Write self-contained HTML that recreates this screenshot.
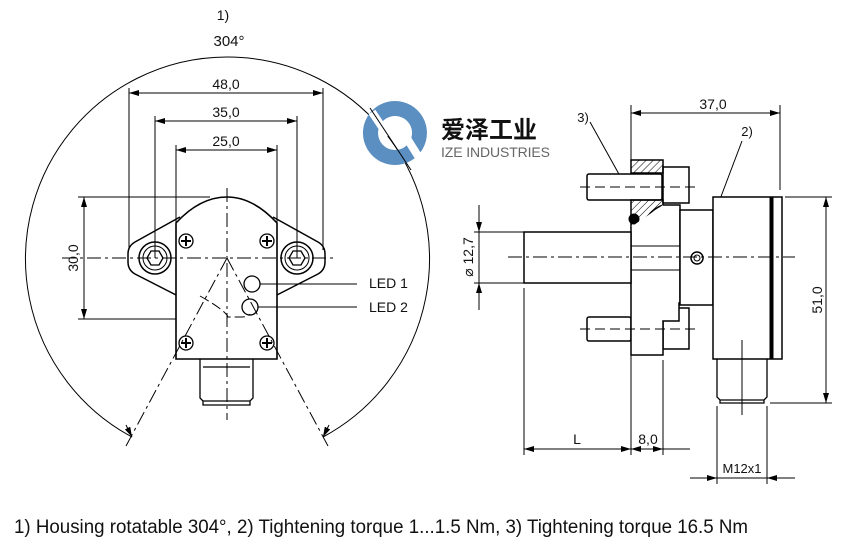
<!DOCTYPE html>
<html><head><meta charset="utf-8"><style>
html,body{margin:0;padding:0;background:#fff;width:855px;height:545px;overflow:hidden}
svg{display:block}
text{font-family:"Liberation Sans","Noto Sans CJK SC",sans-serif;fill:#111}
</style></head><body>
<svg width="855" height="545" viewBox="0 0 855 545" xmlns="http://www.w3.org/2000/svg">
<defs>
<marker id="a" viewBox="0 0 10 6" refX="10" refY="3" markerWidth="10" markerHeight="6" orient="auto-start-reverse" markerUnits="userSpaceOnUse"><path d="M0,0 L10,3 L0,6 z" fill="#000"/></marker>
<pattern id="h" width="5" height="5" patternUnits="userSpaceOnUse" patternTransform="rotate(45)"><line x1="0" y1="0" x2="0" y2="5" stroke="#000" stroke-width="1"/></pattern>
</defs>
<g stroke="#000" fill="none" stroke-width="1">
<path d="M132,437 A202,202 0 1 1 323,437" />
<line x1="126" y1="425" x2="132" y2="437" marker-end="url(#a)"/>
<line x1="329" y1="425" x2="323" y2="437" marker-end="url(#a)"/>
</g>
<g>
<path d="M395,101 a32,32 0 1 1 -0.1,0 z M395,116 a17,17 0 1 0 0.1,0 z" fill="#5b8fc2" fill-rule="evenodd"/>
<line x1="372" y1="112" x2="388" y2="136" stroke="#fff" stroke-width="8"/>
<line x1="403" y1="132" x2="418" y2="156" stroke="#fff" stroke-width="8"/>
<path d="M370,108 L411,170" stroke="#000" fill="none"/>
<text x="441" y="138" font-size="24" font-weight="bold" style="font-family:'Noto Sans CJK SC',sans-serif" fill="#222">爱泽工业</text>
<text x="441" y="157" font-size="14" style="fill:#666" textLength="109">IZE INDUSTRIES</text>
</g>
<g stroke="#000" fill="none" stroke-width="1">
<line x1="129" y1="88" x2="129" y2="250"/><line x1="323" y1="88" x2="323" y2="250"/>
<line x1="129" y1="93" x2="323" y2="93" marker-start="url(#a)" marker-end="url(#a)"/>
<line x1="155" y1="116" x2="155" y2="258"/><line x1="297" y1="116" x2="297" y2="258"/>
<line x1="155" y1="121" x2="297" y2="121" marker-start="url(#a)" marker-end="url(#a)"/>
<line x1="176" y1="145" x2="176" y2="223"/><line x1="277" y1="145" x2="277" y2="223"/>
<line x1="176" y1="150" x2="277" y2="150" marker-start="url(#a)" marker-end="url(#a)"/>
<line x1="78" y1="197" x2="210" y2="197"/><line x1="78" y1="319" x2="210" y2="319"/>
<line x1="84" y1="197" x2="84" y2="319" marker-start="url(#a)" marker-end="url(#a)"/>
<path d="M180,217 L135,242 Q128,246 128,254 L128,262 Q128,270 135,274 L180,297" stroke-width="1.5"/>
<path d="M273,217 L318,242 Q325,246 325,254 L325,262 Q325,270 318,274 L273,297" stroke-width="1.5"/>
<circle cx="155" cy="258" r="16" stroke-width="1.5"/><circle cx="155" cy="258" r="12"/>
<polygon points="147,258 151,251 159,251 163,258 159,265 151,265" stroke-width="1.3"/>
<circle cx="297" cy="258" r="16" stroke-width="1.5"/><circle cx="297" cy="258" r="12"/>
<polygon points="289,258 293,251 301,251 305,258 301,265 293,265" stroke-width="1.3"/>
<path d="M176,359 L176,223 Q200,197 227,197 Q253,197 277,223 L277,359 Z" fill="#fff" stroke-width="1.6"/>
<g stroke-width="1.3">
<circle cx="186" cy="241" r="7"/><circle cx="267" cy="241" r="7"/><circle cx="186" cy="343" r="7"/><circle cx="267" cy="343" r="7"/>
</g>
<g stroke-width="2">
<path d="M181,241h10M186,236v10M262,241h10M267,236v10M181,343h10M186,338v10M262,343h10M267,338v10"/>
</g>
<circle cx="252" cy="284" r="8" stroke-width="1.3"/><circle cx="250" cy="307" r="8" stroke-width="1.3"/>
<line x1="260" y1="284" x2="357" y2="284"/><line x1="258" y1="307" x2="357" y2="307"/>
<path d="M200,296 Q225,310 228,317 L242,317 Q248,317 250,314" stroke-dasharray="10,4"/>
<path d="M200,359 L200,398 L203,401 L250,401 L253,398 L253,359 M203,401 L203,405 L250,405 L250,401 M203,367 L250,367" stroke-width="1.3"/>
<line x1="62" y1="258" x2="335" y2="258" stroke-dasharray="14,4,3,4"/>
<line x1="227" y1="188" x2="227" y2="420" stroke-dasharray="14,4,3,4"/>
<line x1="227" y1="258" x2="126" y2="446" stroke-dasharray="14,4,3,4"/>
<line x1="227" y1="258" x2="328" y2="446" stroke-dasharray="14,4,3,4"/>

<line x1="631" y1="105" x2="631" y2="160"/><line x1="780" y1="105" x2="780" y2="190"/>
<line x1="631" y1="113" x2="780" y2="113" marker-start="url(#a)" marker-end="url(#a)"/>
<line x1="590" y1="122" x2="625" y2="185"/>
<line x1="742" y1="141" x2="700" y2="252"/>
<rect x="587" y="174" width="75" height="26" rx="2" fill="#fff" stroke-width="1.5"/>
<rect x="663" y="167" width="26" height="36" fill="#fff" stroke-width="1.5"/>
<rect x="631" y="160" width="32" height="13" fill="url(#h)" stroke-width="1.5"/>
<path d="M631,200 L663,200 L663,205 Q650,210 646,220 L640,227 L631,227 Z" fill="url(#h)" stroke-width="1.5"/>
<circle cx="634" cy="219" r="5" fill="#000"/>
<rect x="587" y="317" width="44" height="24" rx="2" fill="#fff" stroke-width="1.5"/>
<rect x="663" y="308" width="26" height="41" fill="#fff" stroke-width="1.5"/>
<path d="M631,227 L631,355 L663,355 L663,321 L679,321 L679,303 L680,303 L680,205 L663,205" fill="#fff" stroke-width="1.5"/>
<line x1="631" y1="246" x2="680" y2="246"/><line x1="631" y1="270" x2="680" y2="270"/>
<rect x="680" y="210" width="33" height="95" fill="#fff" stroke-width="1.5"/>
<circle cx="697" cy="258" r="6" stroke-width="1.5"/><circle cx="697" cy="258" r="3"/>
<rect x="524" y="232" width="107" height="51" fill="#fff" stroke-width="1.5"/>
<rect x="713" y="197" width="69" height="162" fill="#fff" stroke-width="1.5"/>
<rect x="770" y="197" width="3" height="162" fill="#000"/>
<path d="M717,359 L717,397 L720,400 L764,400 L767,397 L767,359 M720,400 L720,403 L764,403 L764,400" stroke-width="1.3"/>
<line x1="508" y1="257" x2="795" y2="257" stroke-dasharray="14,4,3,4"/>
<line x1="580" y1="187" x2="695" y2="187" stroke-dasharray="10,5"/>
<line x1="580" y1="329" x2="695" y2="329" stroke-dasharray="10,5"/>
<line x1="742" y1="340" x2="742" y2="415"/>
<line x1="785" y1="197" x2="832" y2="197"/><line x1="770" y1="403" x2="832" y2="403"/>
<line x1="826" y1="197" x2="826" y2="403" marker-start="url(#a)" marker-end="url(#a)"/>
<line x1="474" y1="232" x2="524" y2="232"/><line x1="474" y1="283" x2="524" y2="283"/>
<line x1="479" y1="205" x2="479" y2="232" marker-end="url(#a)"/>
<line x1="479" y1="310" x2="479" y2="283" marker-end="url(#a)"/>
<line x1="479" y1="232" x2="479" y2="283"/>
<line x1="524" y1="288" x2="524" y2="455"/><line x1="631" y1="355" x2="631" y2="455"/><line x1="663" y1="360" x2="663" y2="455"/>
<line x1="524" y1="449" x2="631" y2="449" marker-start="url(#a)" marker-end="url(#a)"/>
<line x1="663" y1="449" x2="690" y2="449"/>
<line x1="631" y1="449" x2="663" y2="449" marker-start="url(#a)" marker-end="url(#a)"/>
<line x1="717" y1="406" x2="717" y2="484"/><line x1="767" y1="406" x2="767" y2="484"/>
<line x1="690" y1="478" x2="717" y2="478" marker-end="url(#a)"/>
<line x1="795" y1="478" x2="767" y2="478" marker-end="url(#a)"/>
<line x1="717" y1="478" x2="767" y2="478"/>
</g>
<g font-size="14">
<text x="223" y="20" text-anchor="middle">1)</text>
<text x="229" y="46" text-anchor="middle" font-size="15">304°</text>
<text x="226" y="89" text-anchor="middle">48,0</text>
<text x="226" y="117" text-anchor="middle">35,0</text>
<text x="226" y="146" text-anchor="middle">25,0</text>
<text x="78" y="258" text-anchor="middle" transform="rotate(-90 78 258)">30,0</text>
<text x="369" y="288">LED 1</text>
<text x="369" y="312">LED 2</text>
<text x="713" y="109" text-anchor="middle">37,0</text>
<text x="583" y="122" text-anchor="middle" font-size="13">3)</text>
<text x="747" y="136" text-anchor="middle" font-size="13">2)</text>
<text x="473" y="257" text-anchor="middle" transform="rotate(-90 473 257)">⌀ 12,7</text>
<text x="822" y="300" text-anchor="middle" transform="rotate(-90 822 300)">51,0</text>
<text x="577" y="444" text-anchor="middle">L</text>
<text x="648" y="444" text-anchor="middle">8,0</text>
<text x="742" y="473" text-anchor="middle" font-size="13">M12x1</text>
</g>
<text x="14" y="533" font-size="19" textLength="734" lengthAdjust="spacingAndGlyphs">1) Housing rotatable 304°, 2) Tightening torque 1...1.5 Nm, 3) Tightening torque 16.5 Nm</text>
</svg>
</body></html>
